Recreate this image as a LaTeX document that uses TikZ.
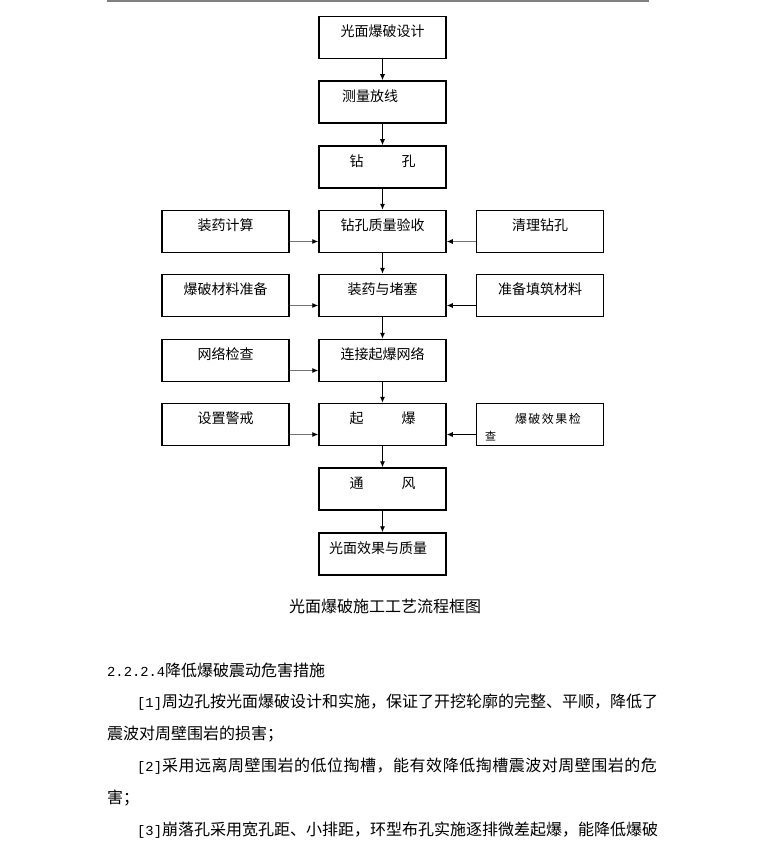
\documentclass[tikz,border=0pt]{standalone}
\usepackage{fontspec}
\setmainfont{Noto Sans CJK SC}
\newfontfamily\widefont[LetterSpace=12]{Noto Sans CJK SC}
\newfontfamily\loosefont[LetterSpace=3.2]{Noto Sans CJK SC}
\newfontfamily\halffont{Liberation Mono}
\usetikzlibrary{arrows.meta}
\newcommand\halfw[1]{{\halffont\fontsize{13.8}{16}\selectfont #1}}

\begin{document}
\begin{tikzpicture}[
  x=1pt, y=-1pt,
  box/.style = {draw, line width=1.5pt, minimum width=127pt, minimum height=42pt,
                inner sep=0pt, text height=10pt, text depth=11.5pt,
                font=\fontsize{14}{16}\selectfont},
  lbox/.style = {box, text width=107pt, align=left},
  arrow/.style = {line width=0.9pt, -{Latex[length=6pt,width=5pt]}},
  feed/.style = {arrow, draw=black!55, -{Latex[length=6pt,width=5pt,color=black]}},
  textline/.style = {anchor=base west, inner sep=0pt, font=\fontsize{16}{18}\selectfont}
]
\useasboundingbox (0,0) rectangle (766,845);

% Page rule at the top
\draw [black!50, line width=1.5pt] (107,1) -- (649,1);

% Main column x=382.5, side columns x=225.5 and x=540
% Row 1-3
\node [box] (design) at (382.5,37.5) {光面爆破设计};
\node [lbox] (survey) at (382.5,102) {\hspace*{13pt}测量放线};
\node [box] (drill) at (382.5,167) {钻\hspace{38pt}孔};

% Row 4: y=231.5
\node [box] (accept) at (382.5,231.5) {钻孔质量验收};
\node [box] (calc) at (225.5,231.5) {装药计算};
\node [box] (clean) at (540,231.5) {清理钻孔};

% Row 5: y=295.5
\node [box] (charge) at (382.5,295.5) {装药与堵塞};
\node [box] (material) at (225.5,295.5) {爆破材料准备};
\node [box] (stemming) at (540,295.5) {准备填筑材料};

% Row 6: y=360.5
\node [box] (network) at (382.5,360.5) {连接起爆网络};
\node [box] (inspect) at (225.5,360.5) {网络检查};

% Row 7: y=424.5
\node [box] (blast) at (382.5,424.5) {起\hspace{38pt}爆};
\node [box] (warning) at (225.5,424.5) {设置警戒};
\node [box, text width=110pt, align=left] (effect) at (540,424.5)
  {\hspace*{30pt}{\widefont\fontsize{12}{14}\selectfont 爆破效果检}\\[1pt]
   {\fontsize{11}{13}\selectfont 查}};

% Row 8-9
\node [box] (vent) at (382.5,489) {通\hspace{38pt}风};
\node [lbox] (quality) at (382.5,554) {光面效果与质量};

% Caption
\node [font=\fontsize{16}{18}\selectfont] (caption) at (385,606) {光面爆破施工工艺流程框图};

% Body text below the chart
\node [textline] (heading) at (107,676) {\halfw{2.2.2.4}降低爆破震动危害措施};
\node [textline] (itemA) at (137,707)
  {\halfw{[1]}周边孔按光面爆破设计和实施，保证了开挖轮廓的完整、平顺，降低了};
\node [textline] (itemAend) at (107,739) {震波对周壁围岩的损害；};
\node [textline] (itemB) at (137,771)
  {\halfw{[2]}{\loosefont 采用远离周壁围岩的低位掏槽，能有效降低掏槽震波对周壁围岩的危}};
\node [textline] (itemBend) at (107,803) {害；};
\node [textline] (itemC) at (137,835)
  {\halfw{[3]}崩落孔采用宽孔距、小排距，环型布孔实施逐排微差起爆，能降低爆破};

% Arrows - vertical flow
\draw [arrow] (design) -- (survey);
\draw [arrow] (survey) -- (drill);
\draw [arrow] (drill) -- (accept);
\draw [arrow] (accept) -- (charge);
\draw [arrow] (charge) -- (network);
\draw [arrow] (network) -- (blast);
\draw [arrow] (blast) -- (vent);
\draw [arrow] (vent) -- (quality);

% Arrows - from the side boxes
\draw [feed] ([yshift=-10pt]calc.east) -- ([yshift=-10pt]accept.west);
\draw [feed] ([yshift=-10pt]clean.west) -- ([yshift=-10pt]accept.east);
\draw [feed] ([yshift=-10pt]material.east) -- ([yshift=-10pt]charge.west);
\draw [feed, draw=black] ([yshift=-10pt]stemming.west) -- ([yshift=-10pt]charge.east);
\draw [feed] ([yshift=-10pt]inspect.east) -- ([yshift=-10pt]network.west);
\draw [feed] ([yshift=-10pt]warning.east) -- ([yshift=-10pt]blast.west);
\draw [feed, draw=black] ([yshift=-10pt]effect.west) -- ([yshift=-10pt]blast.east);

\end{tikzpicture}
\end{document}
